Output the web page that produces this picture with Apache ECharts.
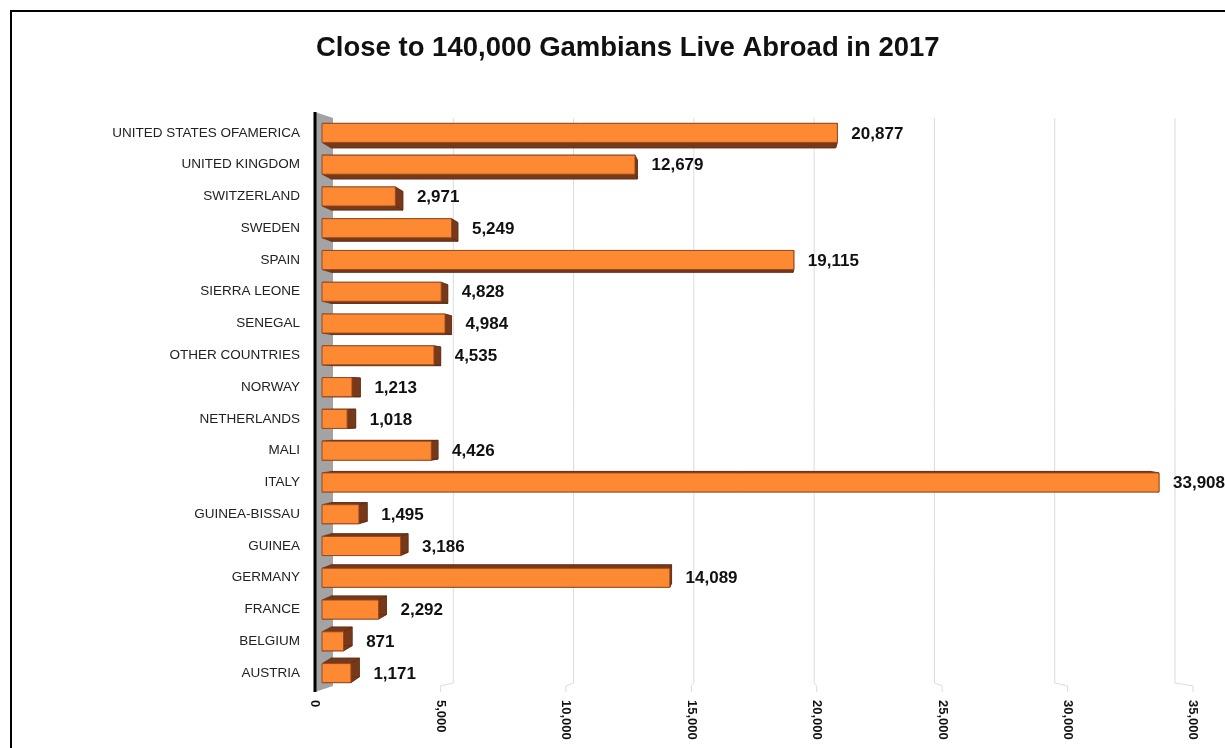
<!DOCTYPE html>
<html>
<head>
<meta charset="utf-8">
<title>Gambians abroad 2017</title>
<script src="https://cdn.jsdelivr.net/npm/echarts@6/dist/echarts.min.js"></script>
<style>
  html, body { margin: 0; padding: 0; background: #fff; }
  #main { width: 1225px; height: 748px; }
</style>
</head>
<body>
<div id="main"></div>
<script>
// categories, top to bottom
const categories = [
  'UNITED STATES OFAMERICA', 'UNITED KINGDOM', 'SWITZERLAND', 'SWEDEN', 'SPAIN',
  'SIERRA LEONE', 'SENEGAL', 'OTHER COUNTRIES', 'NORWAY', 'NETHERLANDS', 'MALI',
  'ITALY', 'GUINEA-BISSAU', 'GUINEA', 'GERMANY', 'FRANCE', 'BELGIUM', 'AUSTRIA'
]
const migrants = [
  20877, 12679, 2971, 5249, 19115,
  4828, 4984, 4535, 1213, 1018, 4426,
  33908, 1495, 3186, 14089, 2292, 871, 1171
]
const xTicks = [0, 5000, 10000, 15000, 20000, 25000, 30000, 35000]

// perspective factors (shrink towards the plot centre)
const WALL_KX = 0.959
const WALL_KY = 0.979
const FRONT_K = 0.984
const DEPTH_K = 0.979

const FONT = '"Liberation Sans", Arial, sans-serif'
const fmt = v => v.toLocaleString('en-US')

/** 3D bar: back face, side faces, front face and value label */
function renderBar(params, api) {
  const cs = params.coordSys
  const vpx = cs.x + cs.width / 2
  const vpy = cs.y + cs.height / 2
  const v = api.value(0)
  const c = api.value(1)
  const a = api.coord([0, c])
  const b = api.coord([v, c])
  const h = api.size([0, 1])[1] * 0.6
  const x0 = vpx + FRONT_K * (a[0] - vpx)
  const x1 = vpx + FRONT_K * (b[0] - vpx)
  const y0 = a[1] - h / 2
  const y1 = a[1] + h / 2
  const f = [[x0, y0], [x1, y0], [x1, y1], [x0, y1]]
  const bk = f.map(p => [vpx + DEPTH_K * (p[0] - vpx), vpy + DEPTH_K * (p[1] - vpy)])
  const side = { fill: '#76391a', stroke: '#5e2c12', lineWidth: 0.6 }
  const poly = pts => ({ type: 'polygon', shape: { points: pts }, style: side })
  return {
    type: 'group',
    children: [
      poly(bk),
      poly([f[0], f[1], bk[1], bk[0]]),
      poly([f[1], f[2], bk[2], bk[1]]),
      poly([f[3], f[2], bk[2], bk[3]]),
      {
        type: 'polygon',
        shape: { points: f },
        style: { fill: '#fd8a33', stroke: '#9a4a1e', lineWidth: 1 }
      },
      {
        type: 'text',
        x: Math.max(x1, bk[1][0]) + 14,
        y: a[1] + 1,
        style: {
          text: fmt(v),
          fill: '#111',
          font: 'bold 17px ' + FONT,
          align: 'left',
          verticalAlign: 'middle',
          textAlign: 'left',
          textVerticalAlign: 'middle'
        }
      }
    ]
  }
}

/** grid lines on back wall + floor, and the grey side wall at 0 */
function renderGrid(params, api) {
  const cs = params.coordSys
  const vpx = cs.x + cs.width / 2
  const vpy = cs.y + cs.height / 2
  const t = api.value(0)
  const xf = api.coord([t, 0])[0]
  const xb = vpx + WALL_KX * (xf - vpx)
  const topF = cs.y - 5
  const botF = cs.y + cs.height + 3
  const topB = vpy + WALL_KY * (topF - vpy)
  const botB = vpy + WALL_KY * (botF - vpy)
  if (t === 0) {
    return {
      type: 'group',
      children: [
        {
          type: 'polygon',
          shape: { points: [[xf, topF], [xb, topB], [xb, botB], [xf, botF]] },
          style: { fill: '#a3a3a3' }
        },
        {
          type: 'line',
          shape: { x1: xf, y1: topF, x2: xf, y2: botF },
          style: { stroke: '#000', lineWidth: 3 }
        }
      ]
    }
  }
  return {
    type: 'polyline',
    shape: { points: [[xb, topB], [xb, botB - 3], [xf, botB], [xf, botF]] },
    style: { stroke: '#dcdcdc', lineWidth: 1, fill: null }
  }
}

const chart = echarts.init(document.getElementById('main'))

const option = {
  backgroundColor: '#fff',
  animation: false,
  title: {
    text: 'Close to 140,000 Gambians Live Abroad in 2017',
    left: 311,
    top: 29,
    textStyle: {
      fontFamily: FONT,
      fontSize: 27.5,
      fontWeight: 'bold',
      color: '#111'
    }
  },
  graphic: [
    {
      type: 'rect',
      shape: { x: 11, y: 11, width: 1300, height: 800 },
      style: { fill: null, stroke: '#000', lineWidth: 2 },
      z: 0
    }
  ],
  grid: {
    left: 315,
    right: 32,
    top: 117,
    height: 572,
    containLabel: false
  },
  xAxis: {
    type: 'value',
    min: 0,
    max: 35000,
    interval: 5000,
    axisLine: { show: false },
    axisTick: { show: false },
    splitLine: { show: false },
    axisLabel: {
      rotate: -90,
      margin: 11,
      color: '#111',
      fontSize: 13,
      fontWeight: 'bold',
      fontFamily: FONT,
      formatter: v => fmt(v)
    }
  },
  yAxis: {
    type: 'category',
    inverse: true,
    data: categories,
    axisLine: { show: false },
    axisTick: { show: false },
    splitLine: { show: false },
    axisLabel: {
      margin: 15,
      color: '#222',
      fontSize: 13.5,
      fontFamily: FONT
    }
  },
  series: [
    {
      name: 'grid',
      type: 'custom',
      renderItem: renderGrid,
      clip: false,
      silent: true,
      z: 1,
      encode: { x: 0, y: 1 },
      data: xTicks.map(t => [t, 0])
    },
    {
      name: 'Gambians abroad',
      type: 'custom',
      renderItem: renderBar,
      clip: false,
      z: 3,
      encode: { x: 0, y: 1 },
      data: migrants.map((v, i) => [v, i])
    }
  ]
}

chart.setOption(option)
</script>
</body>
</html>
